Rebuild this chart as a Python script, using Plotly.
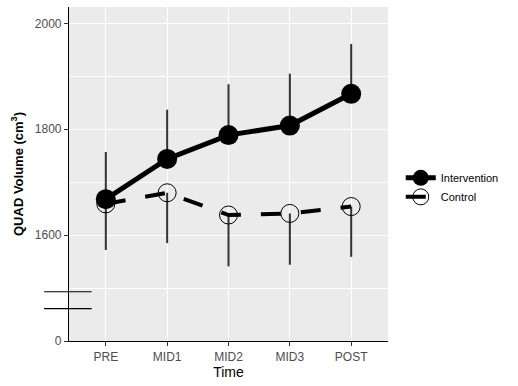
import plotly.graph_objects as go

times = ["PRE", "MID1", "MID2", "MID3", "POST"]
intervention = [1668, 1744, 1789, 1807, 1867]
intervention_err_up = [89, 93, 96, 98, 94]
control = [1659, 1680, 1638, 1641, 1654]
control_err_down = [87, 95, 97, 97, 95]

y_tickvals = [1400, 1600, 1800, 2000]
y_ticktext = ["0", "1600", "1800", "2000"]
y_minor = [1500, 1700, 1900]
y_range = [1400, 2031]
break_marks = [1493, 1461]  # y-values of axis-break marks

zeros = [0] * len(times)

fig = go.Figure()

# one-sided error bars first (beneath lines and points)
fig.add_trace(go.Scatter(
    x=times, y=intervention, mode="markers", showlegend=False, hoverinfo="skip",
    marker=dict(size=0.1, color="rgba(0,0,0,0)"),
    error_y=dict(type="data", symmetric=False, array=intervention_err_up, arrayminus=zeros,
                 visible=True, width=0, thickness=2, color="#333333"),
))
fig.add_trace(go.Scatter(
    x=times, y=control, mode="markers", showlegend=False, hoverinfo="skip",
    marker=dict(size=0.1, color="rgba(0,0,0,0)"),
    error_y=dict(type="data", symmetric=False, array=zeros, arrayminus=control_err_down,
                 visible=True, width=0, thickness=2, color="#333333"),
))

fig.add_trace(go.Scatter(
    x=times, y=control, name="Control", mode="lines+markers",
    line=dict(color="black", width=4, dash="20px,20px"),
    marker=dict(symbol="circle-open", size=18, color="black", line=dict(width=1, color="black")),
    legendrank=2,
))
fig.add_trace(go.Scatter(
    x=times, y=intervention, name="Intervention", mode="lines+markers",
    line=dict(color="black", width=5),
    marker=dict(symbol="circle", size=20, color="black"),
    legendrank=1,
))

for yv in break_marks:
    fig.add_shape(type="line", xref="paper", yref="y", x0=-0.078, x1=0.071, y0=yv, y1=yv,
                  line=dict(color="black", width=1.2), layer="above")

fig.update_layout(
    width=518, height=386,
    margin=dict(l=69, r=130, t=7, b=45),
    paper_bgcolor="white", plot_bgcolor="#EBEBEB",
    font=dict(family="Liberation Sans, Arial, sans-serif", size=12, color="#4D4D4D"),
    showlegend=True,
    legend=dict(x=1.04, xanchor="left", y=0.46, yanchor="middle",
                font=dict(size=11, color="black"), itemwidth=30, bgcolor="rgba(0,0,0,0)"),
    xaxis=dict(
        type="category", categoryorder="array", categoryarray=times,
        range=[-0.6, 4.6], showgrid=True, gridcolor="white", gridwidth=1.2,
        showline=True, linecolor="black", linewidth=1.2,
        ticks="outside", ticklen=4, tickcolor="#333333",
        tickfont=dict(size=12, color="#4D4D4D"),
        title=dict(text="Time", font=dict(size=14, color="black"), standoff=4),
        zeroline=False,
    ),
    yaxis=dict(
        range=y_range, tickvals=y_tickvals, ticktext=y_ticktext,
        showgrid=True, gridcolor="white", gridwidth=1.2,
        minor=dict(tickvals=y_minor, showgrid=True, gridcolor="white", gridwidth=0.6, ticks=""),
        showline=True, linecolor="black", linewidth=1.2,
        ticks="outside", ticklen=4, tickcolor="#333333",
        tickfont=dict(size=12, color="#4D4D4D"),
        title=dict(text="<b>QUAD Volume (cm<sup>3</sup>)</b>", font=dict(size=13, color="black"), standoff=8),
        zeroline=False,
    ),
)

fig.write_html("out.html", post_script="document.body.style.margin='0';",
               config={"displayModeBar": False})
